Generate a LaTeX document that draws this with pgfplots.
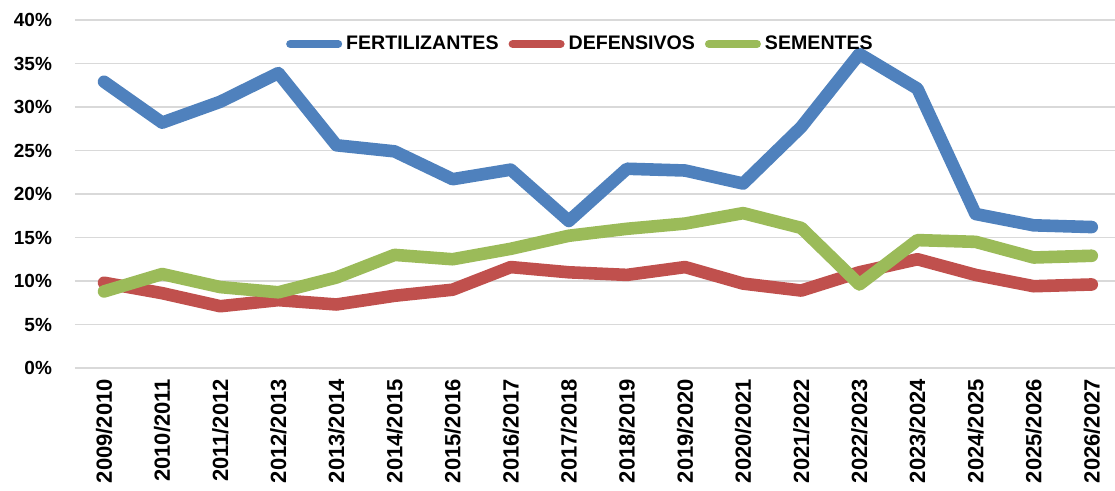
\documentclass[border=0pt]{standalone}
\usepackage{fontspec}
\setmainfont{Liberation Sans}
\usepackage{pgfplots}
\pgfplotsset{compat=1.18}
\definecolor{cfert}{HTML}{4F81BD}
\definecolor{cdef}{HTML}{C0504D}
\definecolor{csem}{HTML}{9BBB59}
\definecolor{cgrid}{HTML}{D9D9D9}
\begin{document}
\begin{tikzpicture}
\useasboundingbox (0,0) rectangle (557.5pt,245.5pt);
\begin{axis}[
  at={(37.5pt,61.5pt)}, anchor=south west,
  scale only axis,
  width=520pt, height=174pt,
  xmin=-0.5, xmax=17.4,
  ymin=0, ymax=40,
  axis line style={draw=none},
  tick style={draw=none},
  ymajorgrids,
  grid style={cgrid, line width=0.9pt},
  ytick={0,5,10,15,20,25,30,35,40},
  yticklabels={0\%,5\%,10\%,15\%,20\%,25\%,30\%,35\%,40\%},
  yticklabel style={font=\fontsize{9.5}{11}\selectfont\bfseries, xshift=-8pt},
  xtick={0,...,17},
  xticklabels={2009/2010,2010/2011,2011/2012,2012/2013,2013/2014,2014/2015,2015/2016,2016/2017,2017/2018,2018/2019,2019/2020,2020/2021,2021/2022,2022/2023,2023/2024,2024/2025,2025/2026,2026/2027},
  xticklabel style={font=\fontsize{11}{13}\selectfont\bfseries, rotate=90, anchor=east, xshift=-2pt},
  clip=false,
  legend columns=-1,
  legend style={draw=none, fill=none, at={(0.487,0.931)}, anchor=center,
    font=\fontsize{9.8}{12}\selectfont\bfseries,
    /tikz/every even column/.append style={column sep=3pt},
    inner sep=0pt},
  legend image code/.code={\draw[#1, line width=4pt, line cap=round] (0pt,0pt) -- (24pt,0pt);},
  every axis plot/.append style={line width=6.3pt, line cap=round, line join=round, mark=none},
]
\addplot[cfert] coordinates {
(0,32.9) (1,28.2) (2,30.6) (3,33.9) (4,25.6) (5,24.9) (6,21.7) (7,22.8) (8,16.9)
(9,22.9) (10,22.7) (11,21.2) (12,27.7) (13,36.1) (14,32.1) (15,17.7) (16,16.4) (17,16.2)};
\addlegendentry{FERTILIZANTES}
\addplot[cdef] coordinates {
(0,9.8) (1,8.6) (2,7.1) (3,7.8) (4,7.3) (5,8.3) (6,9.0) (7,11.6) (8,11.0)
(9,10.7) (10,11.6) (11,9.7) (12,8.9) (13,11.0) (14,12.5) (15,10.7) (16,9.4) (17,9.6)};
\addlegendentry{DEFENSIVOS}
\addplot[csem] coordinates {
(0,8.8) (1,10.8) (2,9.3) (3,8.7) (4,10.4) (5,13.0) (6,12.5) (7,13.7) (8,15.2)
(9,16.0) (10,16.6) (11,17.8) (12,16.1) (13,9.6) (14,14.7) (15,14.5) (16,12.7) (17,12.9)};
\addlegendentry{SEMENTES}
\end{axis}
\end{tikzpicture}
\end{document}
